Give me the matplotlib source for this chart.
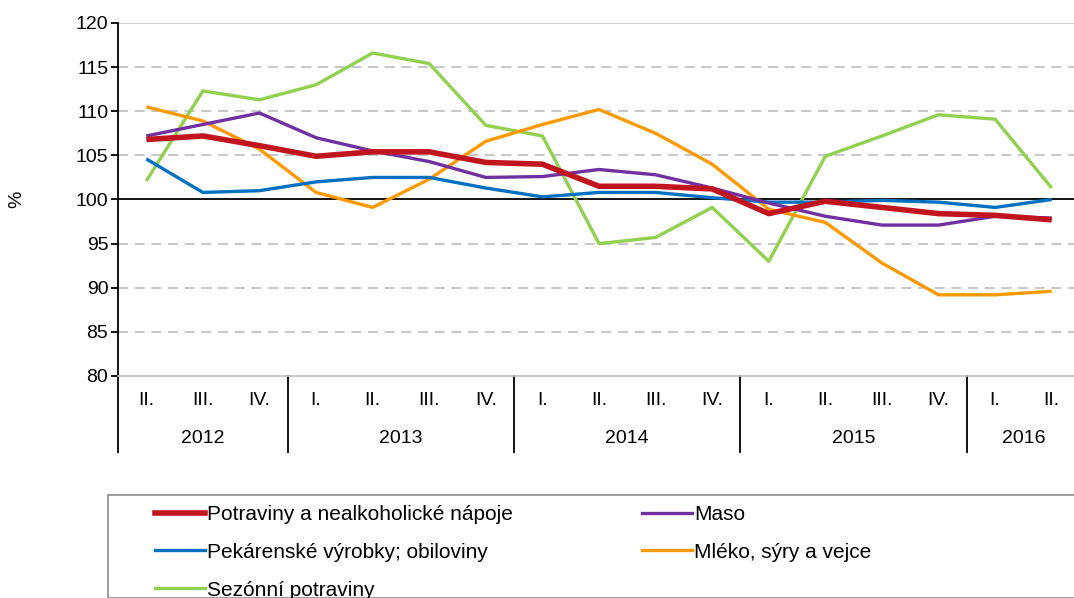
import numpy as np
import matplotlib
matplotlib.use('Agg')
import matplotlib.pyplot as plt
from matplotlib.patches import Rectangle
from matplotlib.lines import Line2D

# quarters 2012 II - 2016 II
quarters = ['II.', 'III.', 'IV.', 'I.', 'II.', 'III.', 'IV.', 'I.', 'II.', 'III.', 'IV.',
            'I.', 'II.', 'III.', 'IV.', 'I.', 'II.']
years = ['2012', '2013', '2014', '2015', '2016']
year_bounds = [-0.5, 2.5, 6.5, 10.5, 14.5, 16.5]

potraviny = [106.8, 107.2, 106.1, 104.9, 105.4, 105.4, 104.2, 104.0, 101.5, 101.5, 101.2,
             98.4, 99.8, 99.1, 98.4, 98.2, 97.7]
maso = [107.2, 108.5, 109.8, 107.0, 105.5, 104.3, 102.5, 102.6, 103.4, 102.8, 101.3,
        99.6, 98.1, 97.1, 97.1, 98.1, 97.9]
pekarenske = [104.6, 100.8, 101.0, 102.0, 102.5, 102.5, 101.3, 100.3, 100.8, 100.8, 100.2,
              99.7, 99.7, 99.9, 99.7, 99.1, 100.0]
mleko = [110.5, 108.9, 105.7, 100.8, 99.1, 102.3, 106.6, 108.5, 110.2, 107.5, 104.0,
         98.9, 97.4, 92.8, 89.2, 89.2, 89.6]
sezonni = [102.1, 112.3, 111.3, 113.0, 116.6, 115.4, 108.4, 107.2, 95.0, 95.7, 99.1,
           93.0, 104.9, 107.2, 109.6, 109.1, 101.3]

series = [
    ('Potraviny a nealkoholické nápoje', potraviny, '#C0151F', 4.0),
    ('Maso', maso, '#7030A0', 2.4),
    ('Pekárenské výrobky; obiloviny', pekarenske, '#0070C0', 2.4),
    ('Mléko, sýry a vejce', mleko, '#FF9900', 2.4),
    ('Sezónní potraviny', sezonni, '#92D050', 2.4),
]

plt.rcParams['font.family'] = ['Liberation Sans']

W, H = 1074, 598
fig = plt.figure(figsize=(W / 100, H / 100), dpi=100)
ax = fig.add_axes([118 / W, (H - 376) / H, (1080 - 118) / W, (376 - 23) / H])

x = np.arange(len(quarters))
# draw in reverse so red is on top
for name, vals, col, lw in series[::-1]:
    ax.plot(x, vals, color=col, lw=lw, solid_capstyle='butt', zorder=3)

ax.set_xlim(-0.5, 16.5)
ax.set_ylim(80, 120)
ax.set_yticks(range(80, 121, 5))
for v in range(85, 120, 5):
    if v != 100:
        ax.axhline(v, color='#BDBDBD', lw=1.2, ls=(0, (6, 4)), zorder=1)
ax.axhline(120, color='#C8C8C8', lw=1.2, zorder=1)
ax.axhline(100, color='black', lw=1.3, zorder=2)

for s in ['top', 'right']:
    ax.spines[s].set_visible(False)
ax.spines['bottom'].set_color('#BDBDBD')
ax.spines['bottom'].set_linewidth(1.2)
ax.spines['left'].set_linewidth(1.3)
ax.tick_params(axis='y', direction='out', length=5, width=1.3, labelsize=14, pad=2)
ax.set_xticks([])
ax.set_ylabel('%', fontsize=14, labelpad=36)

tr = ax.get_xaxis_transform()
for xb in year_bounds[:-1]:
    ax.plot([xb, xb], [0, -0.215], color='black', lw=1.3, transform=tr, clip_on=False)
for i, q in enumerate(quarters):
    ax.text(i, -0.068, q, transform=tr, ha='center', va='center', fontsize=14)
for k, yr in enumerate(years):
    xc = (year_bounds[k] + year_bounds[k + 1]) / 2
    if yr == '2016':
        xc = 15.5
    ax.text(xc, -0.176, yr, transform=tr, ha='center', va='center', fontsize=14)

# legend box
fig.patches.append(Rectangle((108 / W, 0), (1080 - 108) / W, (H - 495) / H,
                             transform=fig.transFigure, fill=False,
                             edgecolor='#8C8C8C', lw=1.2))
handles = [Line2D([], [], color=c, lw=lw) for _, _, c, lw in series]
labels = [n for n, _, _, _ in series]
order = [0, 2, 4, 1, 3]
leg = fig.legend([handles[i] for i in order], [labels[i] for i in order],
                 loc='upper left', bbox_to_anchor=(155 / W, 1 - 505 / H),
                 ncol=2, frameon=False, fontsize=15, handlelength=2.4,
                 handletextpad=0.1, columnspacing=6.2, labelspacing=0.9,
                 borderaxespad=0, borderpad=0)

fig.savefig('out.png', dpi=100)
